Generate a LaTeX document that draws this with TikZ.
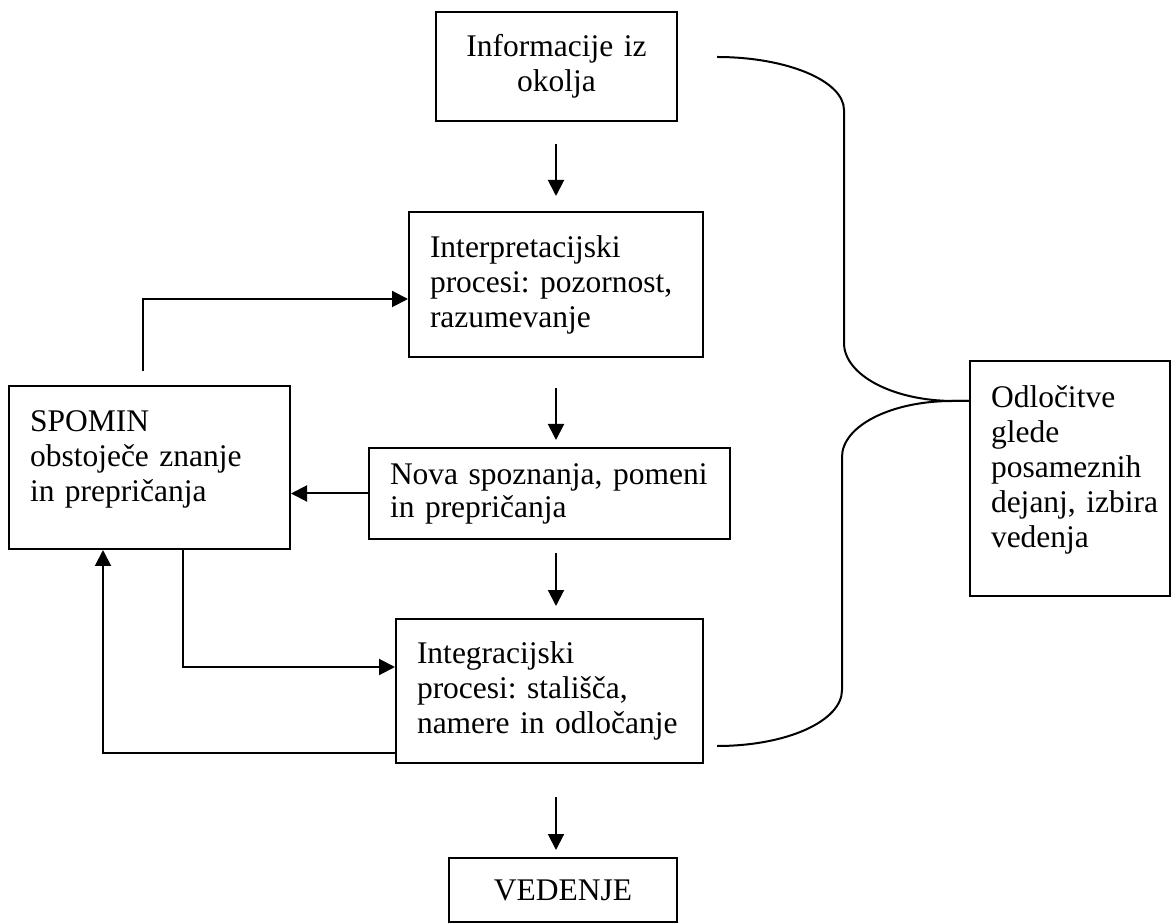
\documentclass[tikz,border=0pt]{standalone}
\usepackage{fontspec}
\setmainfont{Liberation Serif}
\usetikzlibrary{arrows.meta, positioning, calc}

\begin{document}
\frenchspacing
\begin{tikzpicture}[x=0.5pt, y=-0.5pt, line width=1pt, >={Triangle[length=8pt,width=8pt]}]
    \tikzstyle{box}=[draw=black, rectangle, inner xsep=10.5pt, inner ysep=0pt, align=left, font=\fontsize{15.75}{17.5}\selectfont]
    \tikzstyle{flow}=[->]

    \useasboundingbox (0,0) rectangle (1172,924);

    % middle column
    \node[box, align=center, text width=99.5pt, minimum width=120.5pt, minimum height=54.5pt] (info) at (556.5,66.5) {Informacije iz\\okolja};
    \node[box, text width=126pt, minimum width=147pt, minimum height=72.5pt] (interp) at (556,284.5) {Interpretacijski\\procesi: pozornost,\\razumevanje};
    \node[box, text width=159.5pt, minimum width=180.5pt, minimum height=45.5pt, font=\fontsize{15.75}{16.5}\selectfont] (nova) at (549.5,493.5) {Nova spoznanja, pomeni\\in prepričanja};
    \node[box, text width=132.5pt, minimum width=153.5pt, minimum height=72pt] (integ) at (549.5,691) {Integracijski\\procesi: stališča,\\namere in odločanje};
    \node[box, align=center, text width=93pt, minimum width=114pt, minimum height=32pt] (ved) at (563,890) {VEDENJE};

    % sides
    \node[box, text width=119.5pt, minimum width=140.5pt, minimum height=81.5pt] (spomin) at (149.5,467.5) {SPOMIN\\obstoječe znanje\\in prepričanja\\[-6pt]\mbox{}};
    \node[box, text width=79pt, minimum width=100pt, minimum height=117.5pt] (odl) at (1070,478.5) {Odločitve\\glede\\posameznih\\\mbox{dejanj, izbira}\\vedenja\\[-6pt]\mbox{}};

    % downward arrows
    \foreach \a/\b/\s/\t in {info/interp/11/7.5, interp/nova/15/3.5, nova/integ/6.5/6, integ/ved/16.5/3.5}{
        \draw[flow, shorten <=\s pt, shorten >=\t pt] (interp.south |- \a.south) -- (interp.south |- \b.north);
    }

    % feedback to and from memory
    \draw[flow, shorten <=7pt] ($(spomin.north)+(-6.5,0)$) |- ($(interp.west)+(0,14.5)$);
    \draw[flow] (nova.west) -- (nova.west -| spomin.east);
    \draw[flow] ($(spomin.south)+(33.5,0)$) |- ($(integ.west)+(0,-24)$);
    \draw[flow] ($(integ.west)+(0,62)$) -| ($(spomin.south)+(-46.5,0)$);

    % brace
    \coordinate (bt) at ($(info.east)+(39,-9.5)$);
    \coordinate (bb) at ($(integ.east)+(13,55)$);
    \coordinate (tip) at ($(odl.west)+(0,-77.5)$);
    \draw (bt) .. controls +(70,0) and +(0,-29) .. ++(127,53) -- ++(0,233) .. controls +(0,32) and +(-61,0) .. ++(110,58) -- (tip);
    \draw (tip) -- ++(-17,0) .. controls +(-61,0) and +(0,-31) .. ++(-110,56) -- ++(0,233) .. controls +(0,31) and +(70,0) .. (bb);
\end{tikzpicture}
\end{document}
